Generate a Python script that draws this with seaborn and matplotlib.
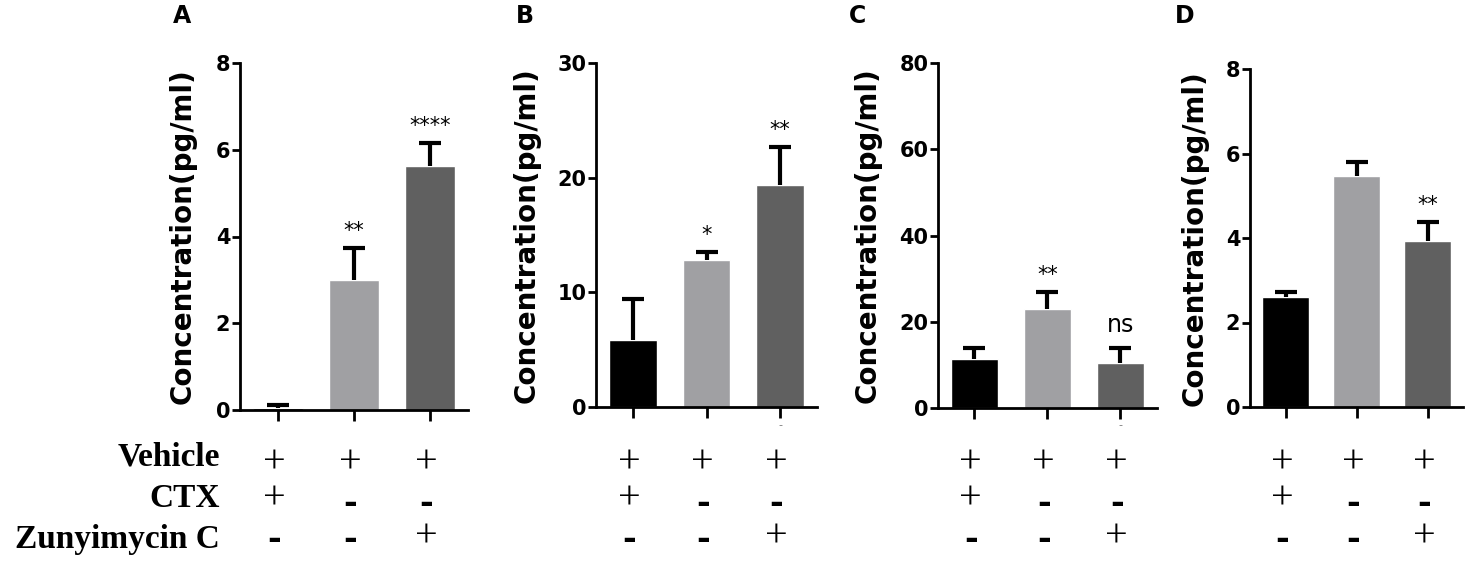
import numpy as np
import pandas as pd
import matplotlib
matplotlib.use("Agg")
import matplotlib.pyplot as plt
import matplotlib.transforms as mtransforms
import seaborn as sns

sns.set_style("ticks")
plt.rcParams['font.family'] = ['DejaVu Sans']
plt.rcParams['text.color'] = 'black'
plt.rcParams['axes.edgecolor'] = 'black'
plt.rcParams['xtick.color'] = 'black'
plt.rcParams['ytick.color'] = 'black'

# Data
groups = ["Vehicle+CTX", "Vehicle", "Vehicle+Zunyimycin C"]
bar_colors = ["#000000", "#a0a0a3", "#606060"]

panel_letters = ["A", "B", "C", "D"]
means = {
    "A": [0.05, 3.00, 5.62],
    "B": [5.85, 12.85, 19.40],
    "C": [11.3, 22.9, 10.5],
    "D": [2.60, 5.47, 3.92],
}
sems = {
    "A": [0.07, 0.74, 0.53],
    "B": [3.60, 0.70, 3.30],
    "C": [2.50, 3.90, 3.30],
    "D": [0.12, 0.32, 0.46],
}
signif = {
    "A": ["", "**", "****"],
    "B": ["", "*", "**"],
    "C": ["", "**", "ns"],
    "D": ["", "", "**"],
}
yticks = {
    "A": [0, 2, 4, 6, 8],
    "B": [0, 10, 20, 30],
    "C": [0, 20, 40, 60, 80],
    "D": [0, 2, 4, 6, 8],
}
# faint stray dash under the third tick in B and C
stray = {"B": [2], "C": [2]}

row_names = ["Vehicle", "CTX", "Zunyimycin C"]
row_signs = [["+", "+", "+"],
             ["+", "-", "-"],
             ["-", "-", "+"]]

W, H = 1476, 566
# axes boxes in pixels: left, right, top, bottom
boxes = {
    "A": (240, 468, 63, 410),
    "B": (596, 817, 63, 407),
    "C": (938, 1157, 63, 408),
    "D": (1250, 1463, 69, 407),
}
ylabel_x = {"A": 183, "B": 527, "C": 868, "D": 1195}
letter_x = {"A": 182, "B": 525, "C": 857, "D": 1185}
plus_y = [463, 499, 537]
dash_y = [467, 504, 540]

fig = plt.figure(figsize=(W / 100, H / 100), dpi=100)

for p in panel_letters:
    l, r, t, b = boxes[p]
    ax = fig.add_axes([l / W, 1 - b / H, (r - l) / W, (b - t) / H])
    df = pd.DataFrame({"group": groups, "value": means[p], "err": sems[p]})
    sns.barplot(data=df, x="group", y="value", hue="group", palette=bar_colors,
                order=groups, hue_order=groups, legend=False, errorbar=None,
                width=0.65, saturation=1, ax=ax, zorder=2)
    x = np.arange(len(groups))
    eb = ax.errorbar(x, df["value"], yerr=[np.zeros(len(x)), df["err"]], fmt="none",
                     ecolor="black", elinewidth=3, capsize=8, capthick=3, zorder=3)
    eb[1][0].set_visible(False)  # no cap at the bar top

    ax.set_xlim(-0.5, 2.5)
    ax.set_ylim(0, yticks[p][-1])
    ax.set_yticks(yticks[p])
    ax.set_yticklabels([str(v) for v in yticks[p]], fontsize=15, fontweight="bold")
    ax.set_xticks(x)
    ax.set_xticklabels([])
    ax.set_xlabel("")
    ax.set_ylabel("")
    sns.despine(ax=ax)
    for s in ["left", "bottom"]:
        ax.spines[s].set_linewidth(2)
    ax.tick_params(axis="y", length=6, width=2, pad=1)
    ax.tick_params(axis="x", length=8, width=2)

    # significance marks
    for i, lab in enumerate(signif[p]):
        if not lab:
            continue
        top = means[p][i] + sems[p][i]
        if lab == "ns":
            ax.annotate(lab, (i, top), xytext=(0, 12), textcoords="offset points",
                        ha="center", va="baseline", fontsize=17)
        else:
            ax.annotate(lab, (i, top), xytext=(0, 8), textcoords="offset points",
                        ha="center", va="baseline", fontsize=15)

    trans = mtransforms.blended_transform_factory(ax.transData, fig.transFigure)
    for i in stray.get(p, []):
        ax.text(i, 1 - 425 / H, "-", transform=trans, ha="center", va="center",
                fontsize=8, color="#777777", clip_on=False)

    # treatment table below the axis
    for ri, signs in enumerate(row_signs):
        for i, s in enumerate(signs):
            if s == "+":
                ax.text(i - 0.05, 1 - plus_y[ri] / H, s, transform=trans, ha="center",
                        va="center", fontsize=29, family="Liberation Serif",
                        clip_on=False)
            else:
                ax.text(i - 0.05, 1 - dash_y[ri] / H, s, transform=trans, ha="center",
                        va="center", fontsize=24, fontweight="bold", clip_on=False)

    fig.text(ylabel_x[p] / W, 1 - ((t + b) / 2) / H, "Concentration(pg/ml)",
             rotation=90, ha="center", va="center", fontsize=20, fontweight="bold")
    fig.text(letter_x[p] / W, 1 - 16 / H, p, ha="center", va="center",
             fontsize=17, fontweight="bold")

label_base = [465, 507, 548]
for name, yb in zip(row_names, label_base):
    fig.text(220 / W, 1 - yb / H, name, ha="right", va="baseline", fontsize=24,
             family="Liberation Serif", fontweight="bold")

plt.savefig("out.png", dpi=100)
